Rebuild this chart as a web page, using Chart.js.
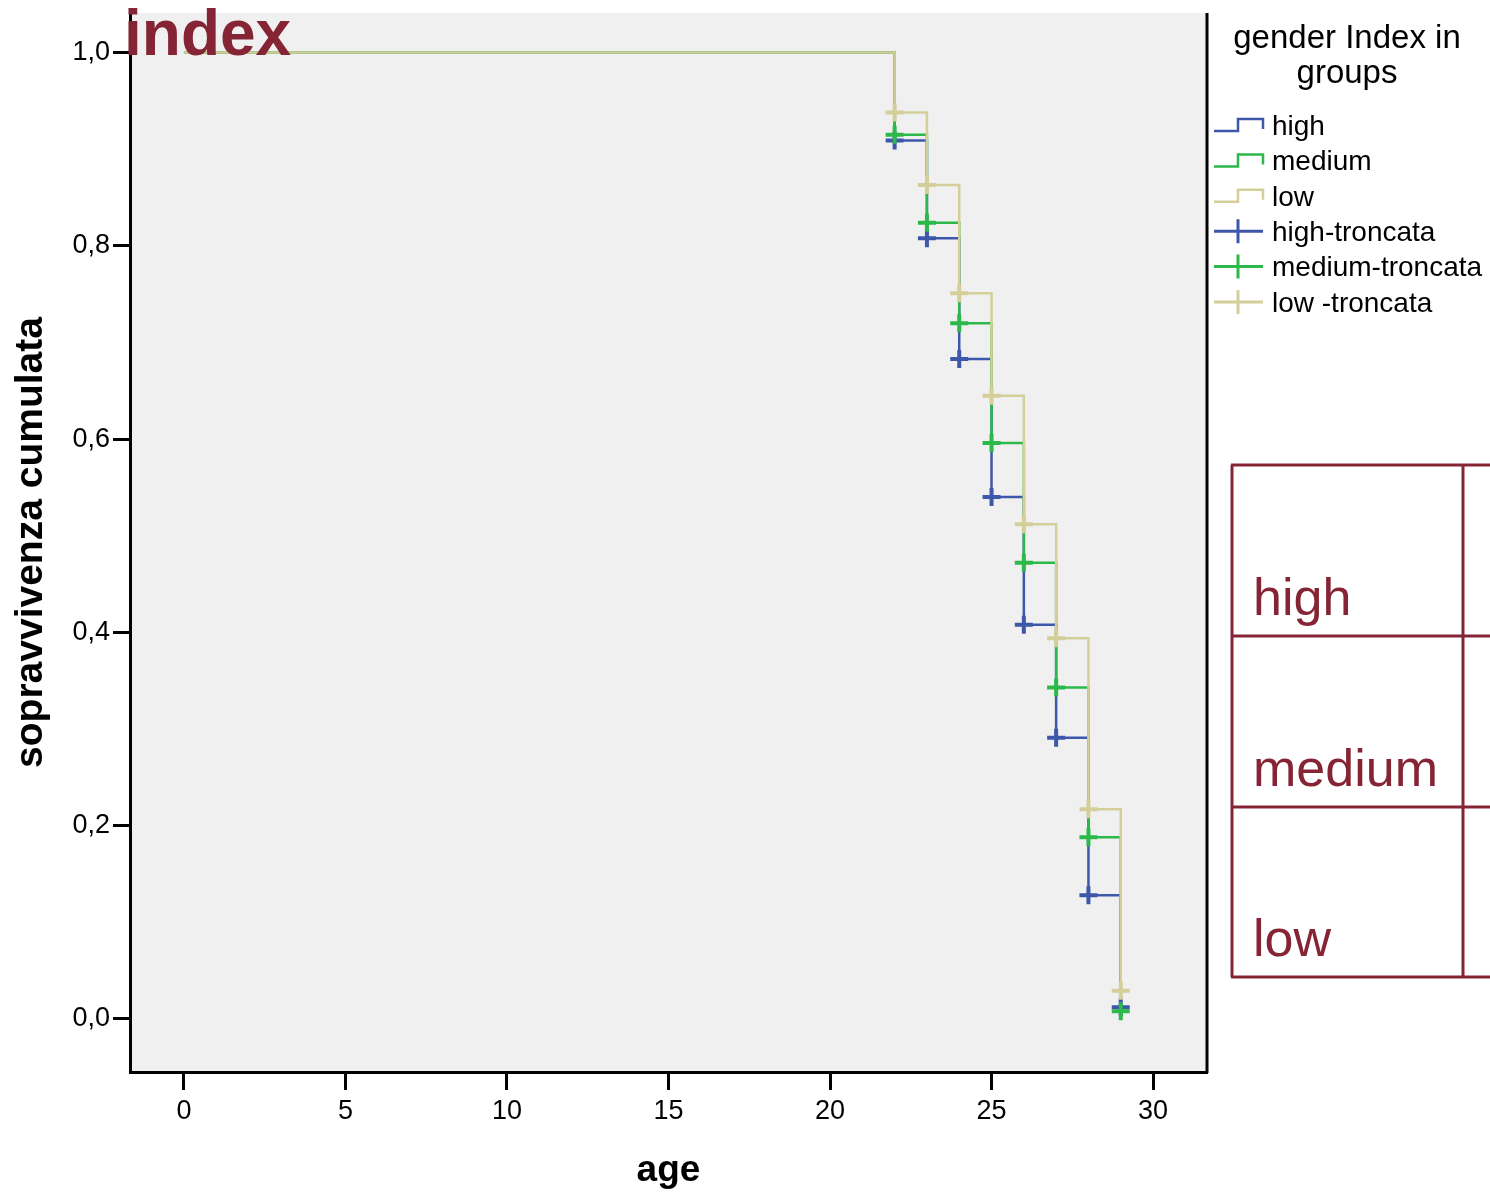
<!DOCTYPE html>
<html>
<head>
<meta charset="utf-8">
<script src="https://cdn.jsdelivr.net/npm/chart.js@4.4.1/dist/chart.umd.min.js"></script>
<style>
  body { margin: 0; background: #fff; }
</style>
</head>
<body>
<canvas id="km" width="1490" height="1195"></canvas>
<script>
// survival curves (step points)
const ages = [0, 22, 23, 24, 25, 26, 27, 28, 29];
const highSurv = [1, 0.909, 0.808, 0.683, 0.540, 0.408, 0.291, 0.128, 0.012];
const mediumSurv = [1, 0.915, 0.824, 0.720, 0.596, 0.472, 0.343, 0.188, 0.008];
const lowSurv = [1, 0.938, 0.863, 0.751, 0.645, 0.512, 0.394, 0.217, 0.029];

// censored ("troncata") marks
const censorAges = [22, 23, 24, 25, 26, 27, 28, 29];
const highCens = [0.909, 0.808, 0.683, 0.540, 0.408, 0.291, 0.128, 0.012];
const mediumCens = [0.915, 0.824, 0.720, 0.596, 0.472, 0.343, 0.188, 0.008];
const lowCens = [0.938, 0.863, 0.751, 0.645, 0.512, 0.394, 0.217, 0.029];

const xTicks = [0, 5, 10, 15, 20, 25, 30];
const yTicks = [0, 0.2, 0.4, 0.6, 0.8, 1.0];

const groups = ['high', 'medium', 'low'];
const legendTitle = ['gender Index in', 'groups'];
const legendLabels = ['high', 'medium', 'low', 'high-troncata', 'medium-troncata', 'low -troncata'];
const colors = ['#3d57ab', '#2db84a', '#d4ce98'];
const darkRed = '#852434';
const FONT = '"Liberation Sans", Arial, sans-serif';

const pts = (xs, ys) => xs.map((x, i) => ({ x: x, y: ys[i] }));

const stepSet = (label, ys, color, order) => ({
  type: 'line', label: label, data: pts(ages, ys), stepped: 'before',
  borderColor: color, borderWidth: 2.5, pointRadius: 0, fill: false, order: order
});
const censSet = (label, ys, color, order) => ({
  type: 'scatter', label: label, data: pts(censorAges, ys),
  pointStyle: 'cross', pointRadius: 9, pointBorderWidth: 4,
  borderColor: color, backgroundColor: color, order: order
});

// grey plot background + right frame line
const framePlugin = {
  id: 'frame',
  beforeDraw(chart) {
    const { ctx, chartArea: a } = chart;
    ctx.save();
    ctx.fillStyle = '#f0f0f0';
    ctx.fillRect(a.left, a.top, a.right - a.left, a.bottom - a.top);
    ctx.restore();
  },
  afterDraw(chart) {
    const { ctx, chartArea: a } = chart;
    ctx.save();
    ctx.strokeStyle = '#000';
    ctx.lineWidth = 3;
    ctx.beginPath();
    ctx.moveTo(a.right, a.top);
    ctx.lineTo(a.right, a.bottom + 1);
    ctx.stroke();
    ctx.restore();
  }
};

// legend on the right, "index" label, group table
const sidePlugin = {
  id: 'side',
  afterDraw(chart) {
    const ctx = chart.ctx;
    ctx.save();
    ctx.fillStyle = '#000';
    ctx.textAlign = 'center';
    ctx.textBaseline = 'alphabetic';
    ctx.font = '33px ' + FONT;
    ctx.fillText(legendTitle[0], 1347, 48);
    ctx.fillText(legendTitle[1], 1347, 83);

    ctx.font = '28px ' + FONT;
    ctx.textAlign = 'left';
    ctx.textBaseline = 'middle';
    legendLabels.forEach((t, i) => {
      const y = 125 + i * 35.4;
      ctx.strokeStyle = colors[i % 3];
      ctx.beginPath();
      if (i < 3) {
        ctx.lineWidth = 2.5;
        ctx.moveTo(1214, y + 6);
        ctx.lineTo(1238, y + 6);
        ctx.lineTo(1238, y - 6);
        ctx.lineTo(1263, y - 6);
        ctx.lineTo(1263, y + 4);
      } else {
        ctx.lineWidth = 3;
        ctx.moveTo(1214, y);
        ctx.lineTo(1263, y);
        ctx.moveTo(1238, y - 12);
        ctx.lineTo(1238, y + 12);
      }
      ctx.stroke();
      ctx.fillStyle = '#000';
      ctx.fillText(t, 1272, y + 2);
    });

    ctx.fillStyle = darkRed;
    ctx.textBaseline = 'alphabetic';
    ctx.font = 'bold 64px ' + FONT;
    ctx.fillText('index', 124, 55);

    ctx.strokeStyle = darkRed;
    ctx.lineWidth = 3;
    const rows = [465, 636, 807, 977];
    ctx.beginPath();
    rows.forEach(r => { ctx.moveTo(1231, r); ctx.lineTo(1490, r); });
    ctx.moveTo(1232, 465); ctx.lineTo(1232, 977);
    ctx.moveTo(1463, 465); ctx.lineTo(1463, 977);
    ctx.stroke();
    ctx.font = '52px ' + FONT;
    groups.forEach((g, i) => ctx.fillText(g, 1253, rows[i + 1] - 21));
    ctx.restore();
  }
};

new Chart(document.getElementById('km'), {
  data: {
    datasets: [
      censSet('low -troncata', lowCens, colors[2], 0),
      censSet('medium-troncata', mediumCens, colors[1], 1),
      censSet('high-troncata', highCens, colors[0], 2),
      stepSet('low', lowSurv, colors[2], 3),
      stepSet('medium', mediumSurv, colors[1], 4),
      stepSet('high', highSurv, colors[0], 5)
    ]
  },
  options: {
    responsive: false,
    animation: false,
    layout: { padding: { top: 12, right: 283, bottom: 0, left: 0 } },
    plugins: { legend: { display: false }, tooltip: { enabled: false } },
    scales: {
      x: {
        type: 'linear', min: -1.67, max: 31.67,
        afterBuildTicks: s => { s.ticks = xTicks.map(v => ({ value: v })); },
        afterFit: s => { s.height = 123; s.paddingLeft = 0; s.paddingRight = 0; },
        grid: { drawOnChartArea: false, tickLength: 18, tickWidth: 3, tickColor: '#000' },
        border: { display: true, color: '#000', width: 3 },
        ticks: { color: '#000', padding: 5, maxRotation: 0, font: { size: 27, family: FONT },
                 callback: v => String(v) },
        title: { display: true, text: 'age', color: '#000', padding: { top: 0, bottom: 2 },
                 font: { size: 37, weight: 'bold', family: FONT, lineHeight: 1.2 } }
      },
      y: {
        type: 'linear', min: -0.055, max: 1.041,
        afterBuildTicks: s => { s.ticks = yTicks.map(v => ({ value: v })); },
        afterFit: s => { s.width = 130; s.paddingTop = 0; s.paddingBottom = 0; },
        grid: { drawOnChartArea: false, tickLength: 17, tickWidth: 3, tickColor: '#000' },
        border: { display: true, color: '#000', width: 3 },
        ticks: { color: '#000', padding: 3, font: { size: 27, family: FONT },
                 callback: v => v.toFixed(1).replace('.', ',') },
        title: { display: true, text: 'sopravvivenza cumulata', color: '#000', padding: { top: 8, bottom: 0 },
                 font: { size: 39, weight: 'bold', family: FONT, lineHeight: 1.2 } }
      }
    }
  },
  plugins: [framePlugin, sidePlugin]
});
</script>
</body>
</html>
